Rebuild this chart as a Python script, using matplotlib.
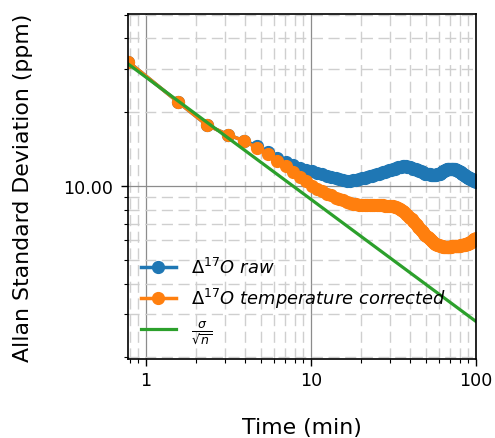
import numpy as np
import matplotlib
matplotlib.use("Agg")
import matplotlib.pyplot as plt
import matplotlib.ticker as ticker

# averaging time step (min); taus are integer multiples of it
tau_step = 0.783
n_taus = 127

adev_raw = [
    32.1, 22.0, 17.7, 16.2,
    15.3, 14.6, 13.7, 13.0, 12.5, 12.2,
    11.8, 11.6, 11.5, 11.3, 11.2, 10.98, 10.88, 10.78, 10.63, 10.53,
    10.48, 10.48, 10.53, 10.58, 10.63, 10.73, 10.78, 10.88, 10.93, 10.98,
    11.09, 11.14, 11.19, 11.30, 11.35, 11.40, 11.51, 11.57, 11.62, 11.73,
    11.78, 11.84, 11.90, 11.96, 11.96, 12.01, 12.01, 12.01, 11.96, 11.96,
    11.90, 11.84, 11.78, 11.73, 11.68, 11.62, 11.57, 11.51, 11.46, 11.40,
    11.35, 11.30, 11.24, 11.19, 11.19, 11.14, 11.14, 11.09, 11.09, 11.09,
    11.09, 11.09, 11.09, 11.14, 11.14, 11.19, 11.24, 11.30, 11.35, 11.40,
    11.46, 11.51, 11.57, 11.62, 11.68, 11.73, 11.78, 11.78, 11.78, 11.78,
    11.78, 11.73, 11.73, 11.68, 11.68, 11.62, 11.62, 11.57, 11.51, 11.51,
    11.46, 11.40, 11.35, 11.30, 11.24, 11.19, 11.14, 11.09, 11.04, 10.98,
    10.93, 10.88, 10.88, 10.83, 10.78, 10.78, 10.73, 10.68, 10.68, 10.63,
    10.58, 10.58, 10.53, 10.48, 10.48, 10.43, 10.38,
]

adev_corr = [
    32.1, 22.0, 17.7, 16.2, 15.3, 14.3, 13.5, 12.6, 12.1, 11.4,
    10.9, 10.5, 10.0, 9.72, 9.54, 9.28, 9.15, 8.97, 8.85, 8.73,
    8.64, 8.56, 8.48, 8.44, 8.40, 8.36, 8.36, 8.36, 8.36, 8.36,
    8.40, 8.40, 8.40, 8.36, 8.36, 8.32, 8.32, 8.29, 8.29, 8.25,
    8.21, 8.17, 8.13, 8.06, 7.98, 7.91, 7.83, 7.72, 7.61, 7.50,
    7.40, 7.30, 7.20, 7.10, 7.00, 6.90, 6.81, 6.71, 6.62, 6.56,
    6.47, 6.38, 6.29, 6.23, 6.17, 6.11, 6.05, 6.00, 5.94, 5.91,
    5.85, 5.82, 5.80, 5.77, 5.74, 5.72, 5.69, 5.69, 5.67, 5.67,
    5.64, 5.64, 5.64, 5.64, 5.64, 5.64, 5.64, 5.64, 5.64, 5.64,
    5.67, 5.67, 5.67, 5.67, 5.67, 5.68, 5.68, 5.69, 5.69, 5.69,
    5.70, 5.71, 5.72, 5.73, 5.74, 5.75, 5.76, 5.77, 5.77, 5.78,
    5.79, 5.80, 5.81, 5.82, 5.84, 5.85, 5.87, 5.89, 5.92, 5.94,
    5.96, 5.99, 6.02, 6.05, 6.07, 6.10, 6.13,
]

# white noise reference line (sigma / sqrt(n)), end points
white_t = [0.783, 99.4]
white_y = [31.4, 2.81]

taus = tau_step * np.arange(1, n_taus + 1)

fig = plt.figure(figsize=(4.95, 4.39), dpi=100)
ax = fig.add_axes([0.2586, 0.18, 0.703, 0.786])

ax.plot(taus, adev_raw, 'o-', color='#1f77b4', ms=8.5, lw=2.5,
        label=r'$\Delta^{17}O\ raw$')
ax.plot(taus, adev_corr, 'o-', color='#ff7f0e', ms=8.5, lw=2.5,
        label=r'$\Delta^{17}O\ temperature\ corrected$')
ax.plot(white_t, white_y, '-', color='#2ca02c', lw=2.3,
        label=r'$\frac{\sigma}{\sqrt{n}}$')

ax.set_xscale('log')
ax.set_yscale('log')
ax.set_xlim(0.78, 100)
ax.set_ylim(1.97, 50.3)

ax.xaxis.set_major_formatter(ticker.FormatStrFormatter('%g'))
ax.yaxis.set_major_formatter(ticker.FormatStrFormatter('%.2f'))
ax.yaxis.set_minor_formatter(ticker.NullFormatter())
ax.xaxis.set_minor_formatter(ticker.NullFormatter())

ax.grid(True, which='major', color='#8c8c8c', lw=0.9, ls='-')
ax.grid(True, which='minor', color='#cfcfcf', lw=1.0, ls=(0, (8, 4)))
ax.set_axisbelow(True)

ax.tick_params(which='major', length=5, width=1, labelsize=12.6)
ax.tick_params(axis='y', which='major', pad=5.5)
ax.tick_params(which='minor', length=3, width=0.8)
for s in ax.spines.values():
    s.set_linewidth(1.2)
    s.set_color('black')

ax.set_xlabel('Time (min)', fontsize=15.8, labelpad=20)
ax.set_ylabel('Allan Standard Deviation (ppm)', fontsize=15.8, labelpad=22)

ax.legend(loc='lower left', frameon=False, fontsize=12.9,
          handlelength=2.0, borderaxespad=0.3, labelspacing=0.5)

fig.savefig('out.png', dpi=100)
